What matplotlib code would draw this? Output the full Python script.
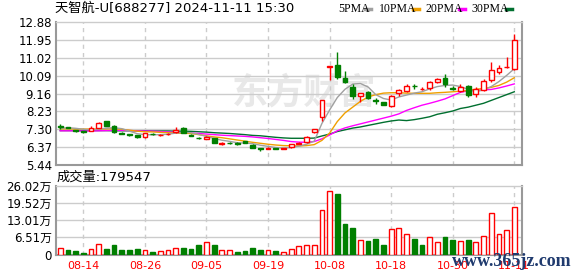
import matplotlib
matplotlib.use("Agg")
import matplotlib.pyplot as plt
import numpy as np
from matplotlib.lines import Line2D

plt.rcParams['font.family'] = ['DejaVu Sans', 'Noto Sans CJK SC']

title = "天智航-U[688277] 2024-11-11 15:30"
date_labels = ["08-14", "08-26", "09-05", "09-19", "10-08", "10-18", "10-30", "11-11"]
date_pos = [3, 11, 19, 27, 35, 43, 51, 59]

opens = [7.45, 7.40, 7.24, 7.20, 7.22, 7.36, 7.71, 7.45, 7.10, 7.03,
         6.98, 6.89, 7.06, 6.98, 7.03, 7.15, 7.38, 7.00, 6.86, 6.80,
         6.83, 6.55, 6.60, 6.57, 6.68, 6.50, 6.30, 6.27, 6.32, 6.28,
         6.36, 6.54, 6.63, 7.16, 7.92, 10.55, 10.62, 9.98, 9.50, 9.04,
         9.25, 8.80, 8.70, 8.52, 9.17, 9.30, 9.56, 9.38, 9.43, 9.77,
         9.98, 9.46, 9.30, 9.54, 9.11, 9.34, 9.86, 10.29, 10.52, 10.46]
closes = [7.43, 7.38, 7.20, 7.16, 7.36, 7.64, 7.47, 7.16, 7.07, 6.98,
          6.90, 7.08, 7.03, 7.00, 7.06, 7.28, 7.12, 6.96, 6.84, 6.90,
          6.60, 6.58, 6.57, 6.55, 6.60, 6.35, 6.26, 6.34, 6.29, 6.31,
          6.53, 6.58, 6.91, 7.30, 8.80, 10.56, 10.00, 9.74, 9.03, 9.17,
          8.91, 8.75, 8.58, 9.03, 9.34, 9.54, 9.53, 9.42, 9.74, 9.91,
          9.64, 9.42, 9.51, 9.08, 9.37, 9.80, 10.38, 10.50, 10.56, 11.94]
highs = [7.59, 7.44, 7.27, 7.22, 7.45, 7.66, 7.73, 7.50, 7.18, 7.06,
         7.00, 7.10, 7.10, 7.05, 7.08, 7.40, 7.40, 7.04, 6.92, 6.93,
         6.85, 6.62, 6.62, 6.62, 6.70, 6.52, 6.35, 6.38, 6.35, 6.34,
         6.55, 6.62, 6.95, 7.33, 8.82, 10.57, 11.33, 10.32, 9.68, 9.19,
         9.30, 8.90, 8.74, 9.08, 9.40, 9.68, 9.66, 9.52, 9.82, 9.98,
         10.17, 9.55, 9.68, 9.60, 9.51, 9.89, 10.81, 10.62, 11.07, 12.28]
lows = [7.33, 7.35, 7.18, 7.13, 7.20, 7.34, 7.45, 7.12, 7.05, 6.95,
        6.85, 6.87, 7.00, 6.95, 7.01, 7.13, 7.10, 6.94, 6.78, 6.78,
        6.57, 6.48, 6.52, 6.50, 6.58, 6.33, 6.17, 6.25, 6.27, 6.26,
        6.34, 6.52, 6.58, 7.08, 7.74, 9.86, 9.94, 9.72, 8.87, 8.73,
        8.88, 8.62, 8.55, 8.48, 9.05, 9.22, 9.40, 9.36, 9.36, 9.70,
        9.51, 9.32, 9.26, 8.98, 8.98, 9.28, 9.76, 10.15, 10.50, 10.40]

ma5 = [7.35, 7.38, 7.35, 7.30, 7.27, 7.30, 7.36, 7.38, 7.33, 7.20,
       7.07, 7.02, 7.01, 7.02, 7.04, 7.10, 7.14, 7.12, 7.03, 6.93,
       6.82, 6.73, 6.67, 6.60, 6.58, 6.55, 6.47, 6.41, 6.35, 6.32,
       6.35, 6.42, 6.52, 6.68, 7.60, 8.30, 8.95, 9.38, 9.65, 9.68,
       9.50, 9.10, 8.90, 8.82, 8.98, 9.08, 9.18, 9.25, 9.40, 9.52,
       9.58, 9.60, 9.52, 9.38, 9.25, 9.35, 9.52, 9.78, 10.10, 10.45]
ma10 = [7.32, 7.32, 7.31, 7.31, 7.31, 7.31, 7.32, 7.32, 7.30, 7.25,
        7.20, 7.17, 7.16, 7.14, 7.12, 7.10, 7.09, 7.08, 7.02, 6.96,
        6.90, 6.86, 6.80, 6.74, 6.68, 6.62, 6.57, 6.52, 6.48, 6.45,
        6.44, 6.43, 6.45, 6.50, 6.72, 7.10, 7.70, 8.15, 8.45, 8.75,
        8.98, 9.10, 9.18, 9.20, 9.20, 9.18, 9.17, 9.17, 9.17, 9.20,
        9.22, 9.25, 9.28, 9.32, 9.38, 9.42, 9.48, 9.58, 9.75, 9.98]
ma20 = [7.22, 7.22, 7.22, 7.21, 7.21, 7.22, 7.23, 7.24, 7.24, 7.23,
        7.22, 7.21, 7.20, 7.18, 7.16, 7.14, 7.12, 7.10, 7.08, 7.05,
        7.02, 6.99, 6.97, 6.95, 6.93, 6.90, 6.86, 6.82, 6.77, 6.72,
        6.66, 6.63, 6.62, 6.66, 6.80, 7.00, 7.22, 7.37, 7.48, 7.58,
        7.68, 7.78, 7.88, 7.98, 8.10, 8.28, 8.42, 8.55, 8.65, 8.76,
        8.88, 9.05, 9.22, 9.30, 9.33, 9.35, 9.37, 9.45, 9.55, 9.66]
ma30 = [7.23, 7.23, 7.23, 7.23, 7.23, 7.23, 7.23, 7.22, 7.22, 7.22,
        7.22, 7.22, 7.21, 7.21, 7.21, 7.20, 7.20, 7.19, 7.17, 7.15,
        7.12, 7.10, 7.08, 7.05, 7.02, 6.98, 6.96, 6.92, 6.88, 6.85,
        6.83, 6.83, 6.83, 6.84, 6.95, 7.05, 7.18, 7.27, 7.36, 7.42,
        7.50, 7.58, 7.66, 7.73, 7.78, 7.75, 7.80, 7.87, 7.95, 8.08,
        8.16, 8.25, 8.38, 8.45, 8.55, 8.65, 8.80, 8.95, 9.10, 9.25]

volumes = [23000, 17000, 13000, 7000, 20000, 38000, 21000, 36000, 17000, 17000,
           21000, 16000, 9500, 12000, 16000, 23000, 24000, 21000, 36000, 46000,
           36000, 16000, 16000, 11000, 13000, 24000, 17000, 16000, 13000, 9000,
           20000, 32000, 35000, 35000, 167000, 239000, 229000, 116000, 101000, 54000,
           52000, 58000, 37000, 96000, 100000, 77000, 58000, 37000, 66000, 47000,
           67000, 55000, 50000, 55000, 48000, 69000, 156000, 78000, 93000, 179547]
vol_up = [1, 0, 0, 0, 1, 1, 0, 0, 0, 0,
          0, 1, 0, 1, 1, 1, 0, 0, 0, 1,
          0, 1, 1, 0, 0, 0, 0, 1, 0, 1,
          1, 1, 1, 1, 1, 1, 0, 0, 0, 1,
          0, 0, 0, 1, 1, 1, 0, 0, 1, 1,
          0, 0, 1, 0, 1, 1, 1, 1, 1, 1]

price_ticks = [5.44, 6.37, 7.30, 8.23, 9.16, 10.09, 11.02, 11.95, 12.88]
vol_ticks = [0, 65050, 130100, 195150, 260200]
vol_tick_labels = ["0", "6.51万", "13.01万", "19.52万", "26.02万"]

RED = "#ff0000"
GREEN = "#007f00"
W, H = 578, 276

fig = plt.figure(figsize=(W / 100, H / 100), dpi=100)
ax = fig.add_axes([56 / W, 1 - 165 / H, 466 / W, 143 / H])
axv = fig.add_axes([56 / W, 1 - 254.5 / H, 466 / W, 69 / H])

x = np.arange(len(opens))

for a in (ax, axv):
    a.set_xlim(-0.55, 60)
    for p in date_pos:
        a.axvline(p, color="#cccccc", lw=1, ls=(0, (3, 3)), zorder=0)
    a.tick_params(axis="both", length=0, labelsize=8.5, pad=3)
    for s in ("left", "right", "bottom"):
        a.spines[s].set_color("#999999")
        a.spines[s].set_linewidth(1.5)
    a.spines["top"].set_color("#cccccc")
    a.spines["top"].set_linewidth(1)

# price panel
ax.set_ylim(price_ticks[0], price_ticks[-1])
ax.set_yticks(price_ticks)
ax.set_xticks([])
for t in price_ticks[1:-1]:
    ax.axhline(t, color="#cccccc", lw=1, zorder=0)

# watermark behind the candles (axes patch made transparent)
fig.text(304 / W, 1 - 93 / H, "东方财富", fontsize=26, color="#e8e8e8",
         ha="center", va="center", family=["Noto Sans CJK SC"], fontweight="bold", zorder=-1)
ax.patch.set_alpha(0)

ax.plot(x, ma30, color="#006f2f", lw=1, zorder=2)
ax.plot(x, ma20, color="#ff00ff", lw=1, zorder=2)
ax.plot(x, ma10, color="#f0a000", lw=1, zorder=2)
ax.plot(x, ma5, color="#a0a0a0", lw=1, zorder=2)

for i in x:
    o, c, hi, lo = opens[i], closes[i], highs[i], lows[i]
    up = c >= o
    col = RED if up else GREEN
    ax.vlines(i, lo, hi, color=col, lw=1, zorder=3)
    body = max(abs(c - o), 0.015)
    ax.bar(i, body, bottom=min(o, c), width=0.62,
           facecolor="white" if up else col, edgecolor=col, lw=1, zorder=4)

# volume panel
axv.set_ylim(0, vol_ticks[-1])
axv.set_yticks(vol_ticks)
axv.set_yticklabels(vol_tick_labels)
for t in vol_ticks[1:-1]:
    axv.axhline(t, color="#cccccc", lw=1, zorder=0)
for i in x:
    if vol_up[i]:
        axv.bar(i, volumes[i], width=0.62, facecolor="white", edgecolor=RED, lw=1, zorder=3)
    else:
        axv.bar(i, volumes[i], width=0.62, facecolor=GREEN, edgecolor=GREEN, lw=1, zorder=3)
axv.set_xticks(date_pos)
axv.set_xticklabels(date_labels, color=RED, fontsize=8)
axv.tick_params(axis="x", pad=5)

# header texts
fig.text(55 / W, 1 - 8.5 / H, title, fontsize=9.5, va="center", ha="left")
fig.text(57 / W, 1 - 177 / H, "成交量:179547", fontsize=9.5, va="center", ha="left")

legend_items = [("5PMA", "#a0a0a0", 338, 365), ("10PMA", "#f0a000", 379, 413),
                ("20PMA", "#ff00ff", 425, 459), ("30PMA", "#006f2f", 471, 506)]
for name, col, px, mx in legend_items:
    fig.text(px / W, 1 - 9 / H, name, fontsize=8.5, va="center", ha="left",
             family=["Liberation Serif"])
    fig.add_artist(Line2D([mx / W, (mx + 6) / W], [1 - 9 / H, 1 - 9 / H],
                          color=col, lw=2.5, transform=fig.transFigure))

fig.text(512 / W, 1 - 262 / H, "www.365jz.com", fontsize=13, color="#1f3a6e",
         ha="center", va="center", family=["Liberation Serif"], fontweight="bold")

fig.savefig("out.png", dpi=100)
